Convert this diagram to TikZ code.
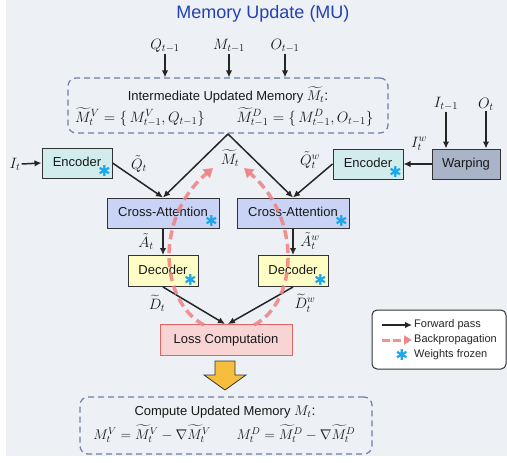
\RequirePackage{fix-cm}
\documentclass[tikz,border=0pt]{standalone}
\usepackage{fontspec}
\usepackage{amsmath}
\setmainfont{Liberation Sans}
\newfontfamily\djv{DejaVu Sans}
\usetikzlibrary{arrows.meta}
\definecolor{bgc}{HTML}{EDF0F5}
\definecolor{encc}{HTML}{D2ECEC}
\definecolor{cac}{HTML}{C9D3F6}
\definecolor{decc}{HTML}{FFFDC6}
\definecolor{lossc}{HTML}{F8D4D4}
\definecolor{lossb}{HTML}{E06464}
\definecolor{warpc}{HTML}{A9B4C8}
\definecolor{dashc}{HTML}{6E7FA3}
\definecolor{titlec}{HTML}{2342B0}
\definecolor{starc}{HTML}{1AA7EC}
\definecolor{bpred}{HTML}{F08080}
\definecolor{arrowy}{HTML}{F5BE3C}
\begin{document}
\begin{tikzpicture}[x=1pt,y=-1pt,
  txt/.style={font=\fontsize{13}{15}\selectfont, text=black!90, inner sep=1pt},
  mth/.style={font=\fontsize{15}{17}\selectfont, text=black!90, inner sep=1pt},
  blk/.style={draw=black!80, line width=1pt, font=\fontsize{13}{15}\selectfont, text=black!90, minimum height=30pt, inner sep=0pt},
  encbox/.style={blk, fill=encc, minimum width=70pt},
  cabox/.style={blk, fill=cac, minimum width=112pt},
  decbox/.style={blk, fill=decc, minimum width=70pt, minimum height=31pt},
  lossbox/.style={blk, draw=lossb, fill=lossc, minimum width=132pt, minimum height=31pt},
  warpbox/.style={blk, fill=warpc, minimum width=68pt},
  dbox/.style={draw=dashc, line width=1.2pt, dash pattern=on 6pt off 4pt, rounded corners=8pt},
  frozen/.style={text=starc, font=\djv\bfseries\fontsize{15}{15}\selectfont, inner sep=0pt},
  fw/.style={draw=black!85, line width=1.5pt, -{Latex[length=7pt,width=6.5pt]}},
  bp/.style={draw=bpred, line width=3.5pt, dash pattern=on 9pt off 5pt, -{Triangle[length=9pt,width=11pt]}, opacity=0.85},
  lg/.style={font=\fontsize{11}{13}\selectfont, text=black!85, inner sep=0pt, anchor=west}]
\useasboundingbox (0,0) rectangle (507,463);
\fill[white] (0,0) rectangle (507,463);
\fill[bgc] (6,0) rectangle (507,456);

% title
\node[font=\fontsize{18}{20}\selectfont, text=titlec] (title) at (263,14) {Memory Update (MU)};

% top dashed box
\node[dbox, minimum width=320pt, minimum height=55pt] (mem) at (228,105.5) {};
\node[txt] (memt) at (228,95) {Intermediate Updated Memory \fontsize{14}{16}\selectfont$\widetilde{M}_t$:};
\node[mth] (memv) at (140,117) {$\widetilde{M}^V_t = \{\, M^V_{t-1}, Q_{t-1}\}$};
\node[mth] (memd) at (305,117) {$\widetilde{M}^D_{t-1} = \{\, M^D_{t-1}, O_{t-1}\}$};

% inputs
\node[mth] (qin) at (165,46) {$Q_{t-1}$};
\node[mth] (min) at (229,46) {$M_{t-1}$};
\node[mth] (oin) at (285,46) {$O_{t-1}$};
\draw[fw] (qin.south) -- (qin.south |- mem.north);
\draw[fw] (min.south) -- (min.south |- mem.north);
\draw[fw] (oin.south) -- (oin.south |- mem.north);

% boxes
\node[encbox] (encL) at (77,163) {\raisebox{3pt}{Encoder}};
\node[cabox] (caL) at (163,213) {\raisebox{3pt}{Cross-Attention}};
\node[decbox] (decL) at (163,271) {\raisebox{3pt}{Decoder}};
\node[cabox] (caR) at (293,213) {\raisebox{3pt}{Cross-Attention}};
\node[decbox] (decR) at (293,271) {\raisebox{3pt}{Decoder}};
\node[encbox] (encR) at (368,164) {\raisebox{3pt}{Encoder}};
\node[warpbox] (warp) at (466,164) {Warping};
\node[lossbox] (loss) at (226,340) {Loss Computation};

% frozen stars
\foreach \b in {encL,caL,decL,caR,decR,encR}
  \node[frozen] at ([shift={(-8,-7)}]\b.south east) {✱};

% side inputs
\node[mth] (it) at (15,164) {$I_t$};
\draw[fw] (it.east) -- (encL.west);
\node[mth] (iin) at (446,104) {$I_{t-1}$};
\node[mth] (oti) at (486,104) {$O_t$};
\draw[fw] (iin.south) -- (iin.south |- warp.north);
\draw[fw] (oti.south) -- (oti.south |- warp.north);
\draw[fw] (warp.west) -- (encR.east);
\node[mth] at (419,144) {$I^w_t$};

% apex
\coordinate (apex) at (228,134);
\draw[fw] (apex) -- (caL.north);
\draw[fw] (apex) -- (caR.north);
\draw[fw] (encL.east) -- (caL.north);
\draw[fw] (encR.west) -- (caR.north);
\draw[fw] (caL.south) -- (decL.north);
\draw[fw] (caR.south) -- (decR.north);
\draw[fw] (decL.south) -- ([xshift=-1pt]loss.north);
\draw[fw] (decR.south) -- ([xshift=2pt]loss.north);

% labels
\node[mth] at (230,158) {$\widetilde{M}_t$};
\node[mth] at (139,164) {$\tilde{Q}_t$};
\node[mth] at (310,160) {$\tilde{Q}^w_t$};
\node[mth] at (146,242) {$\tilde{A}_t$};
\node[mth] at (310,241) {$\tilde{A}^w_t$};
\node[mth] at (157,303) {$\widetilde{D}_t$};
\node[mth] at (305,303) {$\widetilde{D}^w_t$};

% backpropagation
\coordinate (bpL) at (204,325);
\coordinate (bpR) at (254,325);
\coordinate (bpLe) at (213,168);
\coordinate (bpRe) at (244,168);
\draw[bp] (bpL) .. controls (160,302) and (154,218) .. (bpLe);
\draw[bp] (bpR) .. controls (298,302) and (302,218) .. (bpRe);

% big arrow
\draw[fill=arrowy, draw=black!80, line width=0.8pt] (215,361) -- (235,361) -- (235,375) -- (246,375) -- (225,390) -- (204,375) -- (215,375) -- cycle;

% bottom dashed box
\node[dbox, minimum width=292pt, minimum height=57pt] (upd) at (226,425.5) {};
\node[txt] (updt) at (225,412) {Compute Updated Memory \fontsize{14}{16}\selectfont$M_t$:};
\node[txt, font=\fontsize{14}{16}\selectfont] (updv) at (152,434) {$M^V_t = \widetilde{M}^V_t - \nabla\widetilde{M}^V_t$};
\node[txt, font=\fontsize{14}{16}\selectfont] (updd) at (296,434) {$M^D_t = \widetilde{M}^D_t - \nabla\widetilde{M}^D_t$};

% legend
\node[draw=black!80, fill=white, line width=1pt, rounded corners=5pt, minimum width=134pt, minimum height=59pt] (leg) at (439,339.5) {};
\coordinate (l1a) at (382,325); \coordinate (l1b) at (412,325);
\coordinate (l2a) at (382,340); \coordinate (l2b) at (412,340);
\draw[fw] (l1a) -- (l1b);
\node[lg] at (414,325) {Forward pass};
\draw[bp, line width=3pt, dash pattern=on 8pt off 3pt, -{Triangle[length=8pt,width=9pt]}] (l2a) -- (l2b);
\node[lg] at (414,340) {Backpropagation};
\node[frozen] at (402,355) {✱};
\node[lg] at (414,355) {Weights frozen};
\end{tikzpicture}
\end{document}
